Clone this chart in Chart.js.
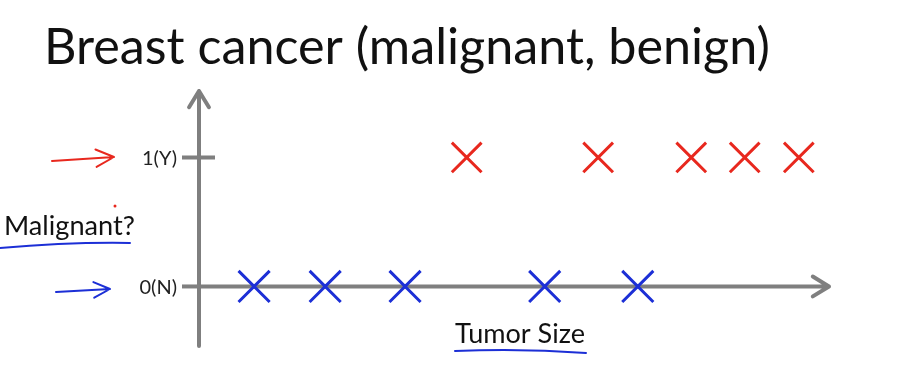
<!DOCTYPE html>
<html>
<head>
<meta charset="utf-8">
<style>
  html, body { margin: 0; padding: 0; background: #fff; }
  #wrap { width: 912px; height: 371px; }
</style>
</head>
<body>
<div id="wrap"><canvas id="cancerChart" width="912" height="371"></canvas></div>
<script src="https://cdn.jsdelivr.net/npm/chart.js"></script>
<script>
    // tumor size (arbitrary units) of each example
    var benignSizes = [0.86, 1.99, 3.26, 5.48, 6.96];
    var malignantSizes = [4.24, 6.33, 7.81, 8.66, 9.52];
    var yTickValues = [1, 0];
    var yTickLabels = ['1(Y)', '0(N)'];
    var titleText = 'Breast cancer (malignant, benign)';
    var yTitle = 'Malignant?';
    var xTitle = 'Tumor Size';

    var AXIS_GREY = '#7f7f7f';
    var RED = '#e8281e';
    var BLUE = '#1c2fd6';

    function arrowLine(ctx, x1, y1, x2, y2, head, spread, color, width) {
        ctx.save();
        ctx.strokeStyle = color;
        ctx.lineWidth = width;
        ctx.lineCap = 'round';
        ctx.lineJoin = 'round';
        ctx.beginPath();
        ctx.moveTo(x1, y1);
        ctx.lineTo(x2, y2);
        var a = Math.atan2(y2 - y1, x2 - x1);
        ctx.moveTo(x2 - head * Math.cos(a - spread), y2 - head * Math.sin(a - spread));
        ctx.lineTo(x2, y2);
        ctx.lineTo(x2 - head * Math.cos(a + spread), y2 - head * Math.sin(a + spread));
        ctx.stroke();
        ctx.restore();
    }

    // fit a string to a given pixel width
    function fitFont(ctx, text, width, family) {
        ctx.font = '40px ' + family;
        var size = 40 * width / ctx.measureText(text).width;
        ctx.font = size + 'px ' + family;
    }

    var slideDecor = {
        id: 'slideDecor',
        beforeDatasetsDraw: function (chart) {
            var ctx = chart.ctx;
            var xs = chart.scales.x, ys = chart.scales.y;
            var area = chart.chartArea;
            var x0 = xs.getPixelForValue(0) - 1;
            var y0 = ys.getPixelForValue(0);

            // title
            ctx.save();
            ctx.fillStyle = '#111';
            ctx.textBaseline = 'alphabetic';
            ctx.textAlign = 'left';
            fitFont(ctx, titleText, 726, 'Lato');
            ctx.fillText(titleText, 44, 64);
            ctx.restore();

            // axes with arrow heads
            arrowLine(ctx, x0, area.bottom, x0, area.top, 19, 0.55, AXIS_GREY, 4);
            arrowLine(ctx, x0, y0, area.right, y0, 19, 0.55, AXIS_GREY, 4);

            // ticks and tick labels
            ctx.save();
            ctx.strokeStyle = AXIS_GREY;
            ctx.lineWidth = 4;
            ctx.fillStyle = '#222';
            ctx.font = '20px Lato';
            ctx.textAlign = 'right';
            ctx.textBaseline = 'middle';
            yTickValues.forEach(function (v, i) {
                var py = ys.getPixelForValue(v);
                ctx.beginPath();
                ctx.moveTo(x0 - 17, py);
                ctx.lineTo(v === 0 ? x0 : x0 + 16, py);
                ctx.stroke();
                ctx.fillText(yTickLabels[i], x0 - 22, py + 1);
            });
            ctx.restore();

            // axis titles
            ctx.save();
            ctx.fillStyle = '#111';
            ctx.textBaseline = 'alphabetic';
            ctx.textAlign = 'left';
            fitFont(ctx, yTitle, 131, 'Lato');
            ctx.fillText(yTitle, 4, 235);
            fitFont(ctx, xTitle, 130, 'Lato');
            ctx.fillText(xTitle, 455, 343);
            ctx.restore();

            // hand-drawn underlines and pointer arrows
            ctx.save();
            ctx.lineCap = 'round';
            ctx.lineWidth = 2;
            ctx.strokeStyle = BLUE;
            ctx.beginPath();
            ctx.moveTo(0, 248);
            ctx.quadraticCurveTo(70, 242, 130, 243);
            ctx.stroke();
            ctx.beginPath();
            ctx.moveTo(455, 351);
            ctx.quadraticCurveTo(520, 348, 586, 353);
            ctx.stroke();
            ctx.fillStyle = RED;
            ctx.beginPath();
            ctx.arc(115, 206, 1.5, 0, Math.PI * 2);
            ctx.fill();
            ctx.restore();
            arrowLine(ctx, 52, 161, 114, 157, 20, 0.45, RED, 2);
            arrowLine(ctx, 56, 292, 110, 289, 18, 0.45, BLUE, 2);
        }
    };

    var ctx = document.getElementById('cancerChart').getContext('2d');
    var cancerChart = new Chart(ctx, {
        type: 'scatter',
        data: {
            datasets: [{
                label: 'Benign (0)',
                data: benignSizes.map(function (s) { return { x: s, y: 0 }; }),
                pointStyle: 'crossRot',
                pointRadius: 22,
                pointBorderWidth: 3,
                borderColor: BLUE,
                backgroundColor: BLUE
            }, {
                label: 'Malignant (1)',
                data: malignantSizes.map(function (s) { return { x: s, y: 1 }; }),
                pointStyle: 'crossRot',
                pointRadius: 21,
                pointBorderWidth: 3,
                borderColor: RED,
                backgroundColor: RED
            }]
        },
        options: {
            responsive: false,
            animation: false,
            layout: { padding: { left: 200, right: 83, top: 91, bottom: 23 } },
            plugins: {
                legend: { display: false },
                tooltip: { enabled: false }
            },
            scales: {
                x: { type: 'linear', min: 0, max: 10, display: false },
                y: { type: 'linear', min: -0.4615, max: 1.515, display: false }
            }
        },
        plugins: [slideDecor]
    });
</script>
</body>
</html>
